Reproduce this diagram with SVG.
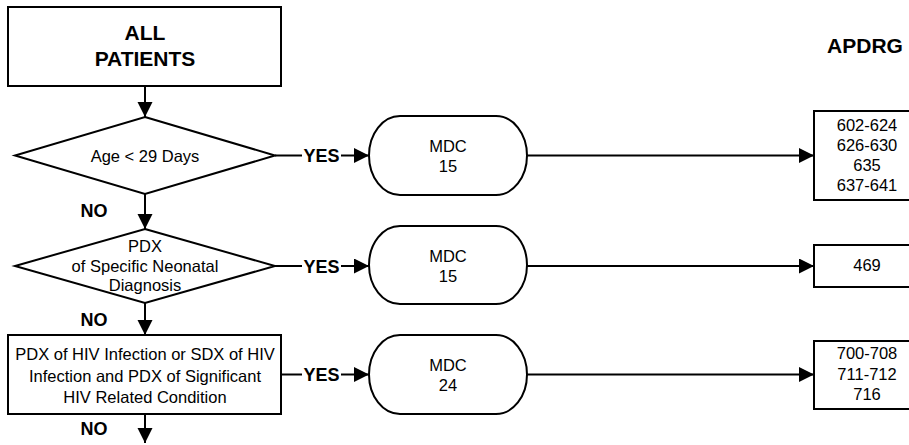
<svg xmlns="http://www.w3.org/2000/svg" width="909" height="445" viewBox="0 0 909 445">
<defs>
<style>
.s{fill:#fff;stroke:#000;stroke-width:2}
.c{fill:none;stroke:#000;stroke-width:2}
text{font-family:"Liberation Sans",Arial,sans-serif;fill:#000;text-anchor:middle}
.t{font-size:16.5px}
.b{font-size:21px;font-weight:bold}
.l{font-size:18px;font-weight:bold}
</style>
<marker id="ah" markerUnits="userSpaceOnUse" markerWidth="16" markerHeight="16" refX="15" refY="7.5" orient="auto">
<path d="M0,0 L15,7.5 L0,15 z" fill="#000"/>
</marker>
</defs>
<rect width="909" height="445" fill="#fff"/>
<g id="connectors">
<line class="c" x1="145" y1="86" x2="145" y2="117" marker-end="url(#ah)"/>
<line class="c" x1="145" y1="194" x2="145" y2="229" marker-end="url(#ah)"/>
<line class="c" x1="145" y1="303" x2="145" y2="335" marker-end="url(#ah)"/>
<line class="c" x1="145" y1="414" x2="145" y2="443" marker-end="url(#ah)"/>
<line class="c" x1="275" y1="155.5" x2="302" y2="155.5"/>
<line class="c" x1="341" y1="155.5" x2="369" y2="155.5" marker-end="url(#ah)"/>
<line class="c" x1="275" y1="266" x2="302" y2="266"/>
<line class="c" x1="341" y1="266" x2="369" y2="266" marker-end="url(#ah)"/>
<line class="c" x1="281" y1="374.5" x2="302" y2="374.5"/>
<line class="c" x1="341" y1="374.5" x2="369" y2="374.5" marker-end="url(#ah)"/>
<line class="c" x1="527" y1="155.5" x2="814" y2="155.5" marker-end="url(#ah)"/>
<line class="c" x1="527" y1="266" x2="814" y2="266" marker-end="url(#ah)"/>
<line class="c" x1="527" y1="374.5" x2="814" y2="374.5" marker-end="url(#ah)"/>
<text class="l" x="321.5" y="162">YES</text>
<text class="l" x="321.5" y="272.5">YES</text>
<text class="l" x="321.5" y="381">YES</text>
<text class="l" x="94" y="217">NO</text>
<text class="l" x="94" y="326">NO</text>
<text class="l" x="94" y="435">NO</text>
</g>
<g id="title">
<text class="b" x="865" y="53">APDRG</text>
</g>
<g id="all-patients">
<rect class="s" x="8" y="7" width="273" height="79"/>
<text class="b" x="145" y="40">ALL</text>
<text class="b" x="145" y="66">PATIENTS</text>
</g>
<g id="age-decision">
<polygon class="s" points="145,117 275,155.5 145,194 15,155.5"/>
<text class="t" x="145" y="162">Age &lt; 29 Days</text>
</g>
<g id="neonatal-decision">
<polygon class="s" points="145,229 275,266 145,303 15,266"/>
<text class="t" x="145" y="252">PDX</text>
<text class="t" x="145" y="272">of Specific Neonatal</text>
<text class="t" x="145" y="291">Diagnosis</text>
</g>
<g id="hiv-decision">
<rect class="s" x="8" y="335" width="273" height="79"/>
<text class="t" x="145" y="360">PDX of HIV Infection or SDX of HIV</text>
<text class="t" x="145" y="382">Infection and PDX of Significant</text>
<text class="t" x="145" y="403">HIV Related Condition</text>
</g>
<g id="mdc15a">
<rect class="s" x="369" y="116" width="158" height="79" rx="31" ry="39.5"/>
<text class="t" x="448" y="152">MDC</text>
<text class="t" x="448" y="172">15</text>
</g>
<g id="mdc15b">
<rect class="s" x="369" y="226" width="158" height="78" rx="31" ry="39"/>
<text class="t" x="448" y="262">MDC</text>
<text class="t" x="448" y="282">15</text>
</g>
<g id="mdc24">
<rect class="s" x="369" y="335" width="158" height="79" rx="31" ry="39.5"/>
<text class="t" x="448" y="371">MDC</text>
<text class="t" x="448" y="391">24</text>
</g>
<g id="apdrg1">
<rect class="s" x="814" y="111" width="106" height="89"/>
<text class="t" x="867" y="131">602-624</text>
<text class="t" x="867" y="151">626-630</text>
<text class="t" x="867" y="171">635</text>
<text class="t" x="867" y="191">637-641</text>
</g>
<g id="apdrg2">
<rect class="s" x="814" y="245" width="106" height="42"/>
<text class="t" x="867" y="271">469</text>
</g>
<g id="apdrg3">
<rect class="s" x="814" y="341" width="106" height="68"/>
<text class="t" x="867" y="359">700-708</text>
<text class="t" x="867" y="380">711-712</text>
<text class="t" x="867" y="400">716</text>
</g>
</svg>
